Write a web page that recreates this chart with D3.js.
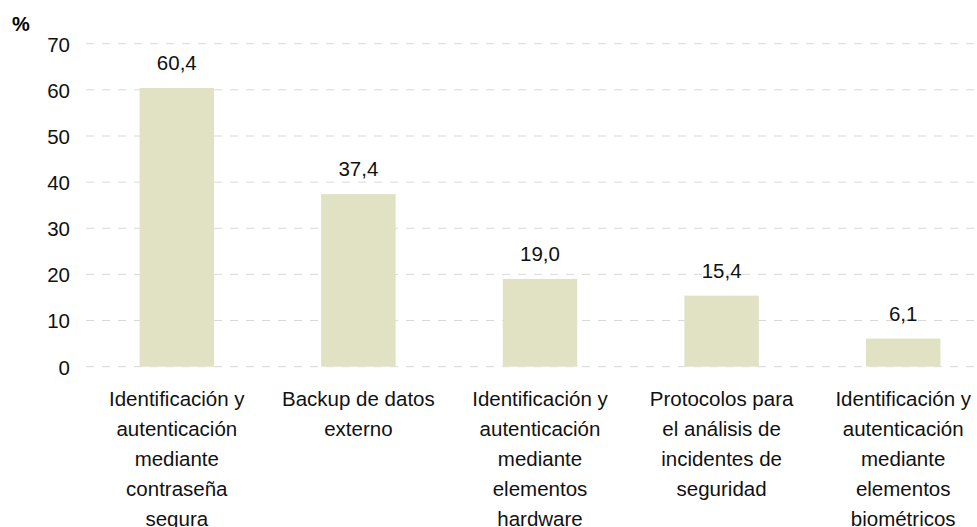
<!DOCTYPE html>
<meta charset="utf-8">
<head>
<style>
  body { margin: 0; background: #fff; font-family: "Liberation Sans", Arial, sans-serif; }
  .grid line { stroke: #d9d9d9; stroke-dasharray: 8,8; }
  .axis text { font-size: 20.5px; fill: #111; font-family: "Liberation Sans", Arial, sans-serif; }
  .bar { fill: #e1e1c4; }
  .value { font-size: 20.5px; fill: #111; }
  .cat { font-size: 20.5px; fill: #111; }
</style>
</head>
<body>
<script src="https://cdn.jsdelivr.net/npm/d3@7"></script>
<script>
var categories = [
  ["Identificación y", "autenticación", "mediante", "contraseña", "segura"],
  ["Backup de datos", "externo"],
  ["Identificación y", "autenticación", "mediante", "elementos", "hardware"],
  ["Protocolos para", "el análisis de", "incidentes de", "seguridad"],
  ["Identificación y", "autenticación", "mediante", "elementos", "biométricos"]
];
var values = [60.4, 37.4, 19.0, 15.4, 6.1];
var yTicks = [0, 10, 20, 30, 40, 50, 60, 70];

var width = 977, height = 527;
var plotLeft = 86, plotRight = 994, plotTop = 43.7, plotBottom = 366.7;

var svg = d3.select("body").append("svg")
  .attr("width", width)
  .attr("height", height);

var x = d3.scaleBand()
  .domain(d3.range(values.length))
  .range([plotLeft, plotRight])
  .paddingInner(0.59)
  .paddingOuter(0.295);

var y = d3.scaleLinear()
  .domain([0, 70])
  .range([plotBottom, plotTop]);

// gridlines
svg.append("g")
  .attr("class", "grid")
  .selectAll("line")
  .data(yTicks)
  .enter().append("line")
  .attr("x1", plotLeft)
  .attr("x2", 977)
  .attr("y1", function (d) { return y(d); })
  .attr("y2", function (d) { return y(d); });

// y axis labels
var yAxis = d3.axisLeft(y).tickValues(yTicks).tickSize(0).tickPadding(16);
var ya = svg.append("g")
  .attr("class", "axis")
  .attr("transform", "translate(" + plotLeft + ",0)")
  .call(yAxis);
ya.select(".domain").remove();
ya.selectAll("text").attr("dy", "0.36em");

svg.append("text")
  .attr("x", 12)
  .attr("y", 31)
  .style("font-size", "20px")
  .style("font-weight", "bold")
  .text("%");

// bars
svg.selectAll("rect.bar")
  .data(values)
  .enter().append("rect")
  .attr("class", "bar")
  .attr("x", function (d, i) { return x(i); })
  .attr("width", x.bandwidth())
  .attr("y", function (d) { return y(d); })
  .attr("height", function (d) { return y(0) - y(d); });

// value labels
svg.selectAll("text.value")
  .data(values)
  .enter().append("text")
  .attr("class", "value")
  .attr("text-anchor", "middle")
  .attr("x", function (d, i) { return x(i) + x.bandwidth() / 2; })
  .attr("y", function (d) { return y(d) - 18; })
  .text(function (d) { return d.toFixed(1).replace(".", ","); });

// category labels
var cat = svg.selectAll("text.cat")
  .data(categories)
  .enter().append("text")
  .attr("class", "cat")
  .attr("text-anchor", "middle")
  .attr("x", function (d, i) { return x(i) + x.bandwidth() / 2; })
  .attr("y", 406);

cat.selectAll("tspan")
  .data(function (d) { return d; })
  .enter().append("tspan")
  .attr("x", function () { return d3.select(this.parentNode).attr("x"); })
  .attr("dy", function (d, i) { return i === 0 ? 0 : 30; })
  .text(function (d) { return d; });
</script>
</body>
